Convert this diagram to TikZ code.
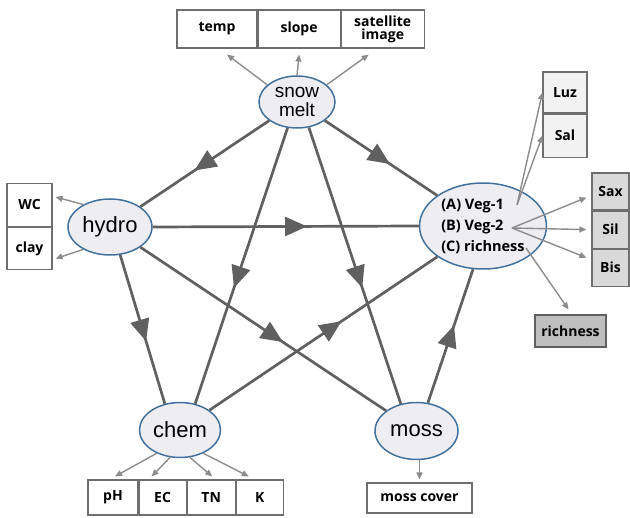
\documentclass[tikz,border=0pt]{standalone}
\usepackage{fontspec}
\setmainfont{Open Sans}
\newfontfamily\ellfont{Liberation Sans}
\usetikzlibrary{shapes.geometric}
\usetikzlibrary{arrows.meta}
\usetikzlibrary{decorations.markings}
\usetikzlibrary{positioning}
\definecolor{ellfill}{RGB}{238,238,242}
\definecolor{ellborder}{RGB}{65,113,156}
\definecolor{linegray}{RGB}{96,96,96}
\definecolor{subgray}{RGB}{140,140,140}
\definecolor{boxgray}{RGB}{110,110,110}
\definecolor{lightbox}{RGB}{242,242,242}
\definecolor{midbox}{RGB}{217,217,217}
\definecolor{darkbox}{RGB}{191,191,191}

\begin{document}
\begin{tikzpicture}[x=1pt,y=-1pt,
    var/.style={ellipse,draw=ellborder,fill=ellfill,line width=1.5pt,inner sep=0pt,font=\ellfont\fontsize{22}{22}\selectfont},
    box/.style={draw=boxgray,line width=1.1pt,fill=white,inner sep=0pt,align=center,font=\bfseries\fontsize{14}{14}\selectfont},
    link/.style={draw=linegray,line width=2.7pt,postaction={decorate},
        decoration={markings,mark=at position 0.58 with {\arrow{Triangle[length=22pt,width=19pt]}}}},
    sub/.style={draw=subgray,line width=1.4pt,-{Triangle[length=7pt,width=6pt]}}]
    \useasboundingbox (0,0) rectangle (630,518);
    % latent variables
    \node[var,minimum width=76pt,minimum height=52pt,font=\ellfont\fontsize{19}{19}\selectfont,align=center] (snow) at (297,102) {snow\\melt};
    \node[var,minimum width=84pt,minimum height=56pt] (hydro) at (110,227) {hydro};
    \node[var,minimum width=127pt,minimum height=86pt,align=left,font=\bfseries\fontsize{14.5}{21}\selectfont] (veg) at (483,226) {(A) Veg-1\\(B) Veg-2\\(C) richness};
    \node[var,minimum width=81pt,minimum height=55pt] (chem) at (180,430) {chem};
    \node[var,minimum width=83pt,minimum height=57pt] (moss) at (416.5,431) {moss};
    % indicators
    \node[box,minimum width=80pt,minimum height=38pt] (temp) at (217,29) {temp};
    \node[box,minimum width=82pt,minimum height=38pt,right=0pt of temp] (slope) {slope};
    \node[box,minimum width=83pt,minimum height=38pt,right=0pt of slope,font=\bfseries\fontsize{14}{13}\selectfont] (sat) {satellite\\image};
    \node[box,minimum width=45pt,minimum height=43pt] (wc) at (29.5,205) {WC};
    \node[box,minimum width=45pt,minimum height=42pt,below=0pt of wc] (clay) {clay};
    \node[box,fill=lightbox,minimum width=44pt,minimum height=41pt] (luz) at (565,92.5) {Luz};
    \node[box,fill=lightbox,minimum width=44pt,minimum height=43pt,below=0pt of luz] (sal) {Sal};
    \node[box,fill=midbox,minimum width=37pt,minimum height=37pt] (sax) at (610.5,191.5) {Sax};
    \node[box,fill=midbox,minimum width=37pt,minimum height=37pt,below=0pt of sax] (sil) {Sil};
    \node[box,fill=midbox,minimum width=37pt,minimum height=37pt,below=0pt of sil] (bis) {Bis};
    \node[box,fill=darkbox,draw=linegray,minimum width=71pt,minimum height=32pt] (rich) at (570.5,331) {richness};
    \node[box,minimum width=50pt,minimum height=35pt] (ph) at (113,497.5) {pH};
    \node[box,minimum width=47pt,minimum height=35pt,right=0pt of ph] (ec) {EC};
    \node[box,minimum width=48pt,minimum height=35pt,right=0pt of ec] (tn) {TN};
    \node[box,minimum width=47pt,minimum height=35pt,right=0pt of tn] (k) {K};
    \node[box,minimum width=105pt,minimum height=30pt] (mosscov) at (419.5,498) {moss cover};
    % paths
    \draw[link] (snow) -- (hydro);
    \draw[link] (snow) -- (veg);
    \draw[link] (hydro.east) -- (veg.west);
    \draw[link] (snow.250) -- (chem.60);
    \draw[link] (snow.295) -- (moss.120);
    \draw[link] (hydro.290) -- (chem.120);
    \draw[link] (hydro) -- (moss);
    \draw[link] (chem) -- (veg);
    \draw[link] (moss.68) -- (veg.257);
    % loadings
    \draw[sub] (snow.150) -- ([xshift=10pt,yshift=-6pt]temp.south);
    \draw[sub] (snow.north) -- ([yshift=-6pt]slope.south);
    \draw[sub] (snow.30) -- ([xshift=-14pt,yshift=-6pt]sat.south);
    \draw[sub] (hydro.140) -- ([xshift=3pt,yshift=8pt]wc.east);
    \draw[sub] (hydro.220) -- ([xshift=3pt,yshift=-10pt]clay.east);
    \coordinate (v1) at (517,205);
    \coordinate (v2) at (512,228);
    \coordinate (v3) at (526,248);
    \draw[sub] (v1) -- (luz.west);
    \draw[sub] (v1) -- (sal.west);
    \draw[sub] (v2) -- ([xshift=-5pt,yshift=-6pt]sax.west);
    \draw[sub] (v2) -- ([xshift=-5pt]sil.west);
    \draw[sub] (v2) -- ([xshift=-5pt,yshift=10pt]bis.west);
    \draw[sub] (v3) -- ([xshift=-2pt,yshift=5pt]rich.north);
    \draw[sub] (chem.225) -- ([xshift=2pt,yshift=3pt]ph.north);
    \draw[sub] (chem.250) -- ([xshift=-11pt,yshift=3pt]ec.north);
    \draw[sub] (chem.290) -- ([xshift=1pt,yshift=3pt]tn.north);
    \draw[sub] (chem.315) -- ([xshift=-11pt,yshift=3pt]k.north);
    \draw[sub] (mosscov.north |- moss.south) -- ([yshift=3pt]mosscov.north);
\end{tikzpicture}
\end{document}
